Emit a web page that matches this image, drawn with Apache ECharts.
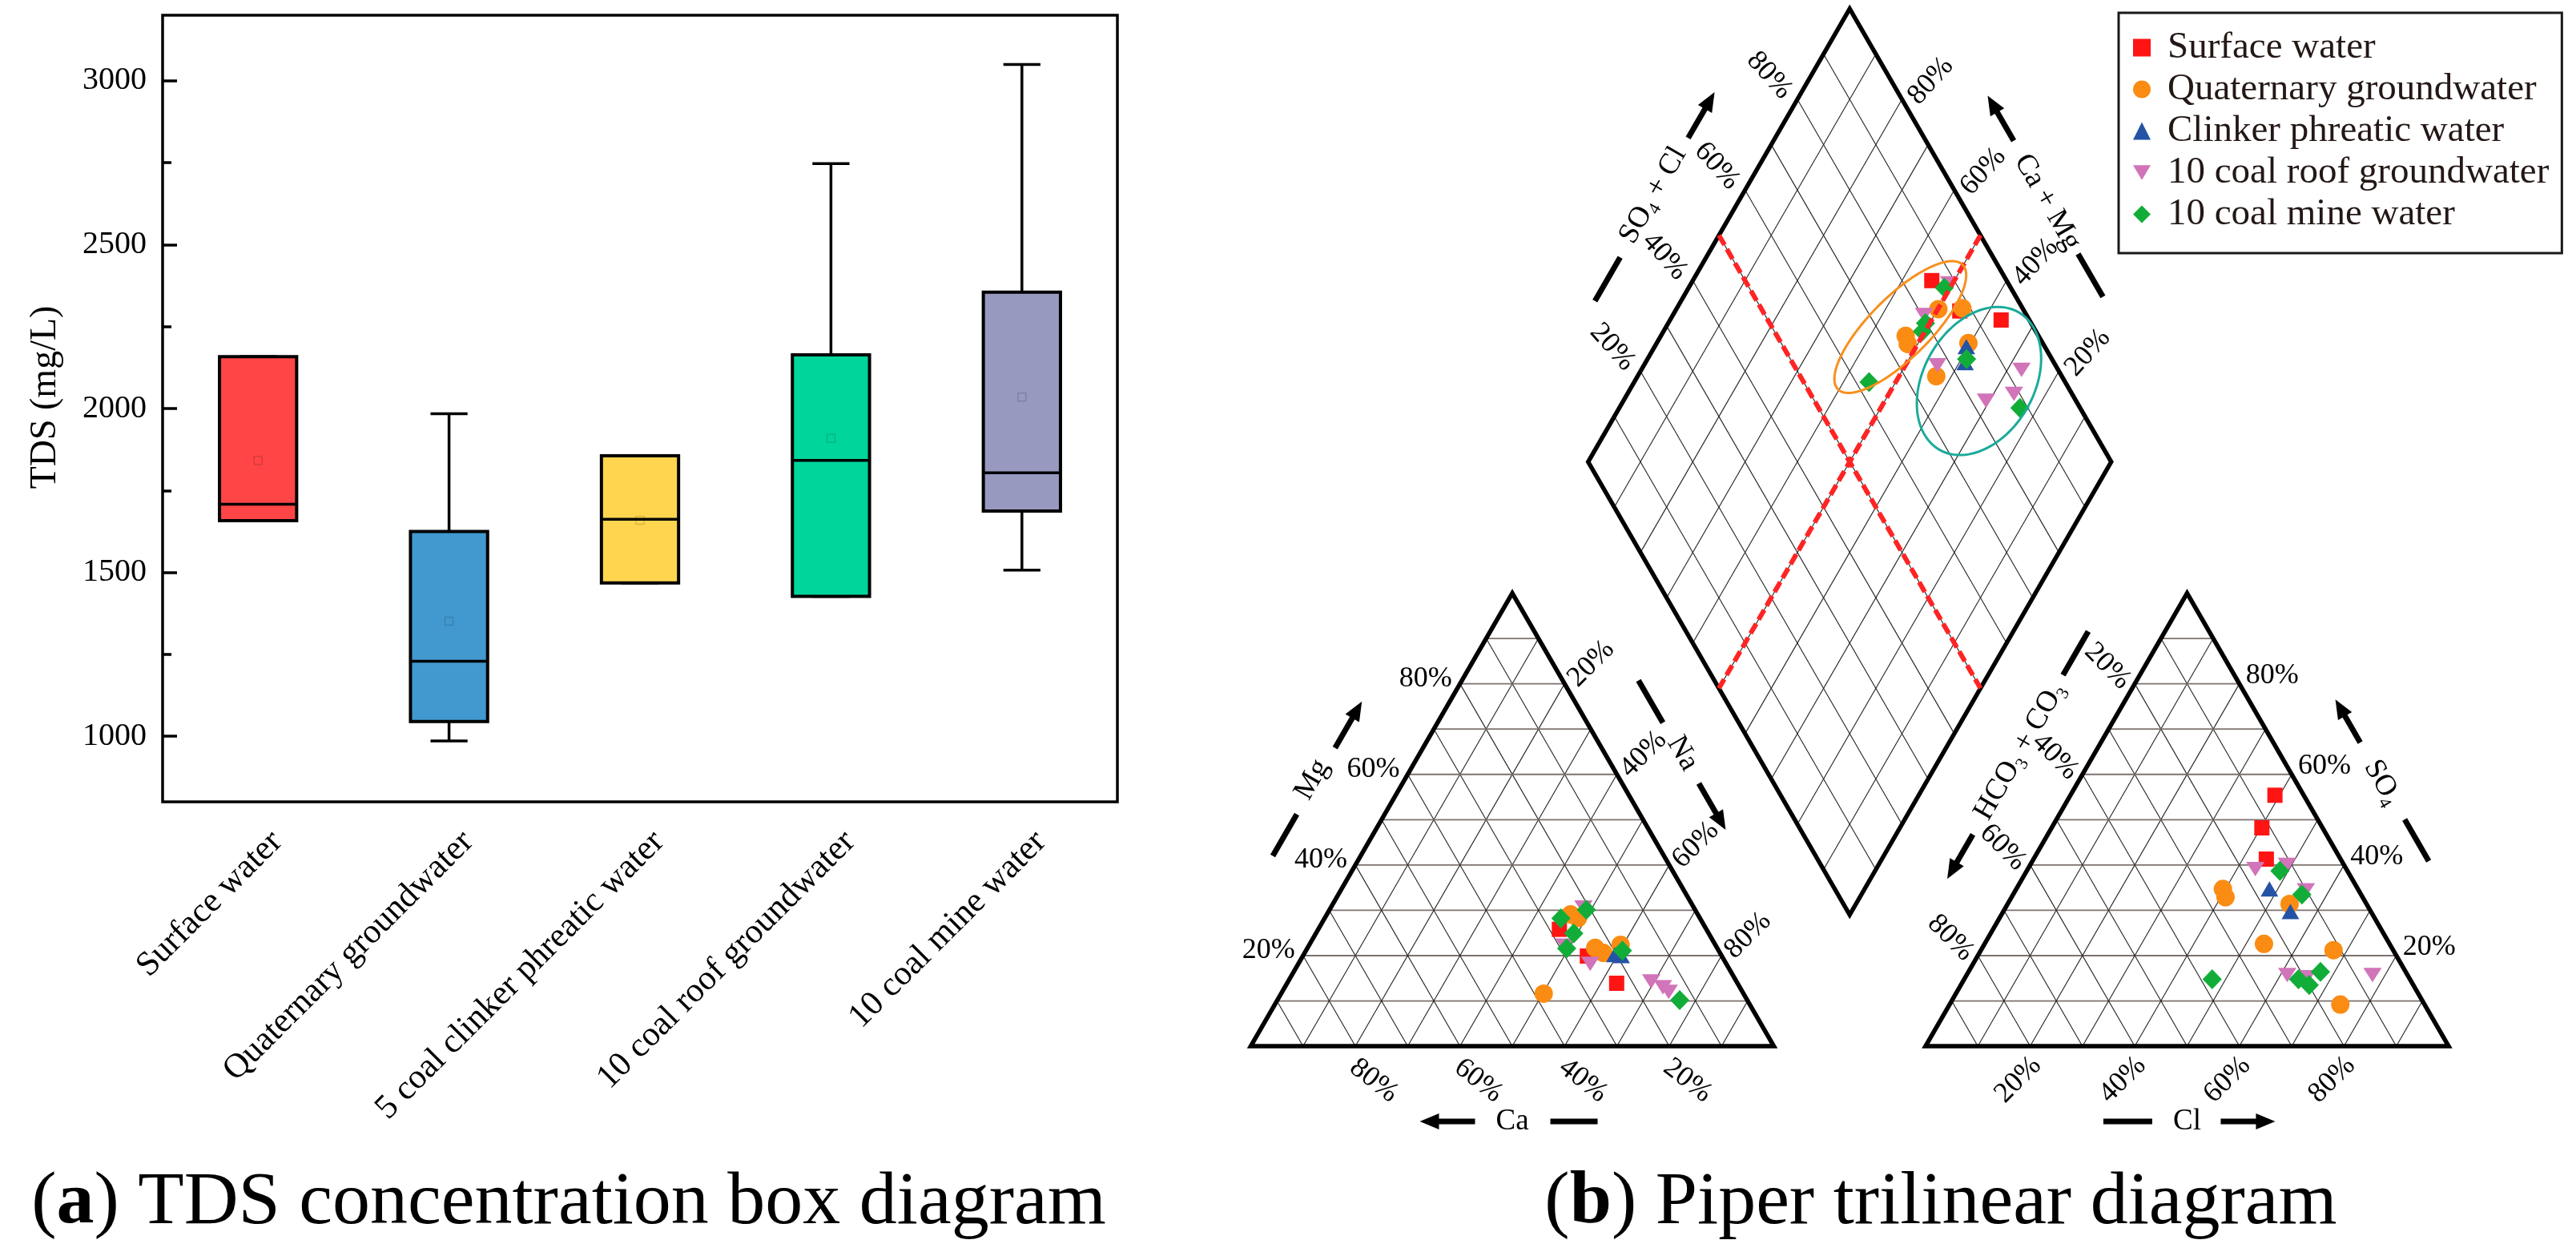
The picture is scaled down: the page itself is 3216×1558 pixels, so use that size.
<!DOCTYPE html>
<html>
<head>
<meta charset="utf-8">
<script src="https://cdn.jsdelivr.net/npm/echarts@6.0.0/dist/echarts.min.js"></script>
<style>
html,body{margin:0;padding:0;background:#ffffff;}
#chart{width:3216px;height:1558px;}
</style>
</head>
<body>
<div id="chart"></div>
<script>
// ===== (a) TDS box diagram (mg/L) =====
const boxCategories = ['Surface water', 'Quaternary groundwater', '5 coal clinker phreatic water', '10 coal roof groundwater', '10 coal mine water'];
const boxMin    = [1658,  986, 1468, 1427, 1507];
const boxQ1     = [1658, 1045, 1468, 1427, 1687];
const boxMedian = [1708, 1229, 1662, 1842, 1804];
const boxQ3     = [2158, 1625, 1856, 2164, 2355];
const boxMax    = [2158, 1984, 1856, 2747, 3050];
const boxMean   = [1842, 1351, 1659, 1909, 2035];
const yMajorTicks = [1000, 1500, 2000, 2500, 3000];
const yMinorTicks = [1250, 1750, 2250, 2750];

// ===== (b) Piper trilinear diagram =====
const groupNames = ['Surface water', 'Quaternary groundwater', 'Clinker phreatic water', '10 coal roof groundwater', '10 coal mine water'];
// cation triangle: [Mg %, Na+K %]
const cationSurface    = [[25.8,46.1],[19.9,54.4],[13.9,63.0]];
const cationQuaternary = [[29.1,46.6],[28.3,48.4],[21.7,55.0],[20.6,57.1],[22.4,59.5],[11.6,50.2]];
const cationClinker    = [[20.2,59.5],[20.0,60.8]];
const cationRoof       = [[18.2,55.8],[14.3,69.4],[13.0,72.3],[12.0,73.9],[30.6,48.3],[22.2,48.9]];
const cationMine       = [[28.2,45.2],[30.1,49.1],[24.9,49.3],[21.6,49.6],[21.1,60.5],[10.2,76.9]];
// anion triangle: [SO4 %, Cl %]
const anionSurface    = [[55.4,39.1],[48.2,40.2],[41.3,44.5]];
const anionQuaternary = [[34.7,39.5],[32.9,40.9],[31.4,53.9],[22.6,53.4],[21.2,67.4],[9.2,74.7]];
const anionClinker    = [[34.7,48.4],[29.7,54.9]];
const anionRoof       = [[39.1,43.5],[40.0,49.1],[34.4,55.5],[15.7,61.3],[15.7,77.6],[15.2,65.3]];
const anionMine       = [[38.7,48.4],[33.5,55.2],[14.8,47.4],[14.8,63.9],[13.5,66.6],[16.4,67.3]];
// diamond: [Ca+Mg %, SO4+Cl %]
const diamondSurface    = [[54.3,85.7],[36.7,94.6],[45.6,87.7]];
const diamondQuaternary = [[49.9,83.8],[45.4,88.5],[53.2,74.6],[51.9,74.1],[40.4,85.8],[42.9,76.0]];
const diamondClinker    = [[40.4,85.0],[38.9,83.0]];
const diamondRoof       = [[43.9,77.4],[27.3,93.0],[30.7,82.8],[26.1,88.9],[50.7,88.7],[52.0,80.4]];
const diamondMine       = [[51.1,87.3],[50.8,79.8],[50.5,78.3],[55.1,62.5],[39.0,83.7],[23.4,88.5]];
const pctTicks = [20, 40, 60, 80];

// ===== styles / geometry config =====
const FONT = 'Liberation Serif';
const boxColors = ['#FF4545', '#4299CF', '#FFD54F', '#00D59B', '#9799BF'];
const groupStyles = [
  {symbol: 'rect', size: 19, color: '#FF1414', rotate: 0, icon: 'rect'},
  {symbol: 'circle', size: 23, color: '#FA8C14', rotate: 0, icon: 'circle'},
  {symbol: 'triangle', size: [22, 19], color: '#2453A6', rotate: 0, icon: 'triangle'},
  {symbol: 'triangle', size: [23, 18], color: '#D174B9', rotate: 180, icon: 'path://M0,0L20,0L10,17Z'},
  {symbol: 'diamond', size: [24, 25], color: '#12AD38', rotate: 0, icon: 'diamond'}
];
// group ellipses in diamond: centre [Ca+Mg, SO4+Cl], semi axes (piper units), angle deg
const groupEllipses = [
  {c: [55.2, 74.55], a: 16.84, b: 5.82, ang: 45, color: '#F7901E'},
  {c: [34.2, 83.64], a: 15.16, b: 10.57, ang: 60, color: '#1BAA9A'}
];

const H = Math.sqrt(3) / 2 * 100;
const GAP = 29;
const AX = 100 + GAP;
function catXY(p) { const mg = p[0], na = p[1]; return [na + mg / 2, mg * H / 100]; }
function anXY(p) { const so4 = p[0], cl = p[1]; return [AX + cl + so4 / 2, so4 * H / 100]; }
function diaXY(p) { const na = 100 - p[0], a = p[1]; return [(na + AX + a) / 2, (AX + a - na) * H / 100]; }

const cationSets = [cationSurface, cationQuaternary, cationClinker, cationRoof, cationMine];
const anionSets = [anionSurface, anionQuaternary, anionClinker, anionRoof, anionMine];
const diamondSets = [diamondSurface, diamondQuaternary, diamondClinker, diamondRoof, diamondMine];

function piperFrame(params, api) {
  const P = (xy) => api.coord(xy);
  const ch = [];
  const seg = (a, b, stroke, w, dash) => ch.push({type: 'line', shape: {x1: a[0], y1: a[1], x2: b[0], y2: b[1]},
    style: {stroke: stroke, lineWidth: w, lineDash: dash || null, fill: null}});
  const HL = '#7d726e', DL = '#222222';
  [0, AX].forEach(function (ox) {
    for (let i = 1; i < 10; i++) {
      const f = i / 10;
      seg(P([ox + f * 50, f * H]), P([ox + 100 - f * 50, f * H]), HL, 1.8);
      seg(P([ox + f * 100, 0]), P([ox + f * 100 + (1 - f) * 50, (1 - f) * H]), DL, 1.1);
      seg(P([ox + (1 - f) * 100, 0]), P([ox + (1 - f) * 50, (1 - f) * H]), DL, 1.1);
    }
  });
  for (let i = 1; i < 10; i++) {
    const f = i * 10;
    seg(P(diaXY([100 - f, 0])), P(diaXY([100 - f, 100])), DL, 1.1);
    seg(P(diaXY([0, f])), P(diaXY([100, f])), DL, 1.1);
  }
  const poly = (pts) => ch.push({type: 'polygon', shape: {points: pts.map(P)},
    style: {fill: null, stroke: '#000', lineWidth: 5.5, lineJoin: 'miter', miterLimit: 10}});
  poly([[0, 0], [100, 0], [50, H]]);
  poly([[AX, 0], [AX + 100, 0], [AX + 50, H]]);
  poly([diaXY([100, 0]), diaXY([100, 100]), diaXY([0, 100]), diaXY([0, 0])]);

  const txt = (p, dx, dy, s, rot, size) => ch.push({type: 'text', x: p[0] + dx, y: p[1] + dy,
    rotation: rot * Math.PI / 180,
    style: {text: s, fill: '#000', fontFamily: FONT, fontSize: size, align: 'center', verticalAlign: 'middle'}});
  pctTicks.forEach(function (m) {
    const s = m + '%';
    txt(P([m / 2, m * H / 100]), -43, -6, s, 0, 36);
    txt(P([50 + m / 2, H * (1 - m / 100)]), 33, -25, s, 45, 36);
    txt(P([100 - m, 0]), 23, 43, s, -38, 36);
    txt(P([AX + 100 - m / 2, m * H / 100]), 41, -10, s, 0, 36);
    txt(P([AX + m, 0]), -15, 42, s, 45, 36);
    txt(P([AX + 50 * (1 - m / 100), H * (1 - m / 100)]), -34, -22, s, -45, 36);
    txt(P(diaXY([100, m])), -35, -30, s, -48, 36);
    txt(P(diaXY([m, 100])), 36, -23, s, 48, 36);
  });

  const rich = {
    n: {fontFamily: FONT, fontSize: 37, fill: '#000', lineHeight: 44},
    s: {fontFamily: FONT, fontSize: 22, fill: '#000', verticalAlign: 'bottom', lineHeight: 22}
  };
  function decor(A, B, nsign, items) {
    const a = P(A), b = P(B);
    const L = Math.hypot(b[0] - a[0], b[1] - a[1]);
    const e = [(b[0] - a[0]) / L, (b[1] - a[1]) / L];
    const n = [nsign * e[1], -nsign * e[0]];
    const m = [(a[0] + b[0]) / 2, (a[1] + b[1]) / 2];
    items.forEach(function (it) {
      const c = [m[0] + e[0] * it.t + n[0] * it.d, m[1] + e[1] * it.t + n[1] * it.d];
      if (it.k === 'text') {
        ch.push({type: 'text', x: c[0], y: c[1], rotation: it.rot * Math.PI / 180,
          style: {text: it.s, fill: '#000', fontFamily: FONT, fontSize: 37, align: 'center', verticalAlign: 'middle', rich: rich}});
      } else if (it.k === 'dash') {
        seg([c[0] - e[0] * it.len / 2, c[1] - e[1] * it.len / 2], [c[0] + e[0] * it.len / 2, c[1] + e[1] * it.len / 2], '#000', 7);
      } else {
        const d = [e[0] * it.dir, e[1] * it.dir];
        const tail = [c[0] - d[0] * it.len / 2, c[1] - d[1] * it.len / 2];
        const tip = [c[0] + d[0] * it.len / 2, c[1] + d[1] * it.len / 2];
        const hl = 24, hw = 10;
        const base = [tip[0] - d[0] * hl, tip[1] - d[1] * hl];
        seg(tail, [base[0] + d[0] * 2, base[1] + d[1] * 2], '#000', 7);
        ch.push({type: 'polygon', shape: {points: [tip, [base[0] - d[1] * hw, base[1] + d[0] * hw], [base[0] + d[1] * hw, base[1] - d[0] * hw]]},
          style: {fill: '#000'}});
      }
    });
  }
  decor([0, 0], [50, H], 1, [
    {k: 'text', s: '{n|Mg}', t: 0, d: 100, rot: 60}, {k: 'dash', t: -77, d: 95, len: 60}, {k: 'arrow', t: 82, d: 95, len: 67, dir: 1}]);
  decor([0, 0], [100, 0], -1, [
    {k: 'text', s: '{n|Ca}', t: 0, d: 94, rot: 0}, {k: 'arrow', t: -81, d: 94, len: 69, dir: -1}, {k: 'dash', t: 77, d: 94, len: 59}]);
  decor([50, H], [100, 0], 1, [
    {k: 'text', s: '{n|Na}', t: -47, d: 84, rot: -60}, {k: 'dash', t: -123, d: 82, len: 61}, {k: 'arrow', t: 29, d: 83, len: 67, dir: 1}]);
  decor([AX, 0], [AX + 100, 0], -1, [
    {k: 'text', s: '{n|Cl}', t: 0, d: 94, rot: 0}, {k: 'dash', t: -74, d: 94, len: 61}, {k: 'arrow', t: 76, d: 94, len: 68, dir: 1}]);
  decor([AX + 50, H], [AX + 100, 0], 1, [
    {k: 'text', s: '{n|SO}{s|4}', t: 0, d: 93, rot: -60}, {k: 'arrow', t: -88, d: 94, len: 62, dir: -1}, {k: 'dash', t: 84, d: 94, len: 60}]);
  decor([AX, 0], [AX + 50, H], 1, [
    {k: 'text', s: '{n|HCO}{s|3}{n| + CO}{s|3}', t: 51, d: 82, rot: 60}, {k: 'dash', t: 192, d: 83, len: 63}, {k: 'arrow', t: -100, d: 81, len: 64, dir: -1}]);
  decor(diaXY([100, 0]), diaXY([100, 100]), 1, [
    {k: 'text', s: '{n|SO}{s|4}{n| + Cl}', t: 2, d: 96, rot: 60}, {k: 'dash', t: -117, d: 93, len: 63}, {k: 'arrow', t: 119, d: 94, len: 66, dir: 1}]);
  decor(diaXY([100, 100]), diaXY([0, 100]), 1, [
    {k: 'text', s: '{n|Ca + Mg}', t: 6, d: 93, rot: -60}, {k: 'arrow', t: -114, d: 95, len: 65, dir: -1}, {k: 'dash', t: 112, d: 94, len: 62}]);
  return {type: 'group', children: ch};
}

function piperOverlay(params, api) {
  const P = (xy) => api.coord(xy);
  const ch = [];
  const dash = (a, b) => ch.push({type: 'line', shape: {x1: a[0], y1: a[1], x2: b[0], y2: b[1]},
    style: {stroke: '#FF2424', lineWidth: 6, lineDash: [14, 6]}});
  dash(P(diaXY([100, 50])), P(diaXY([0, 50])));
  dash(P(diaXY([50, 100])), P(diaXY([50, 0])));
  groupEllipses.forEach(function (el) {
    const c = diaXY(el.c);
    const r = el.ang * Math.PI / 180;
    const pts = [];
    for (let k = 0; k <= 120; k++) {
      const t = k / 120 * Math.PI * 2;
      const lx = el.a * Math.cos(t), ly = el.b * Math.sin(t);
      pts.push(P([c[0] + lx * Math.cos(r) - ly * Math.sin(r), c[1] + lx * Math.sin(r) + ly * Math.cos(r)]));
    }
    ch.push({type: 'polyline', shape: {points: pts}, style: {stroke: el.color, lineWidth: 3, fill: null}});
  });
  return {type: 'group', children: ch};
}

function boxItem(params, api) {
  const i = api.value(0);
  const pMin = api.coord([i, api.value(1)]);
  const pQ1 = api.coord([i, api.value(2)]);
  const pMed = api.coord([i, api.value(3)]);
  const pQ3 = api.coord([i, api.value(4)]);
  const pMax = api.coord([i, api.value(5)]);
  const band = api.size([1, 0])[0];
  const bw = band * 0.404, cw = band * 0.194;
  const x = pMin[0];
  const ln = (x1, y1, x2, y2, w) => ({type: 'line', shape: {x1: x1, y1: y1, x2: x2, y2: y2}, style: {stroke: '#000', lineWidth: w}});
  return {type: 'group', children: [
    ln(x, pMax[1], x, pQ3[1], 3.5),
    ln(x, pQ1[1], x, pMin[1], 3.5),
    ln(x - cw / 2, pMax[1], x + cw / 2, pMax[1], 3.5),
    ln(x - cw / 2, pMin[1], x + cw / 2, pMin[1], 3.5),
    {type: 'rect', shape: {x: x - bw / 2, y: pQ3[1], width: bw, height: pQ1[1] - pQ3[1]},
      style: {fill: boxColors[params.dataIndex], stroke: '#000', lineWidth: 4}},
    ln(x - bw / 2, pMed[1], x + bw / 2, pMed[1], 3.5)
  ]};
}

const scatterSeries = groupNames.map(function (name, g) {
  const st = groupStyles[g];
  const data = [].concat(cationSets[g].map(catXY), anionSets[g].map(anXY), diamondSets[g].map(diaXY));
  return {
    name: name, type: 'scatter', xAxisIndex: 1, yAxisIndex: 2, data: data,
    symbol: st.symbol, symbolSize: st.size, symbolRotate: st.rotate,
    itemStyle: {color: st.color, opacity: 1}, z: 3, silent: true
  };
});

const chart = echarts.init(document.getElementById('chart'), null, {renderer: 'canvas', width: 3216, height: 1558});
const option = {
  animation: false,
  backgroundColor: '#ffffff',
  grid: [
    {left: 203, top: 19, width: 1192, height: 982, show: true, borderColor: '#000', borderWidth: 3.5, backgroundColor: 'rgba(0,0,0,0)', outerBoundsMode: 'none', containLabel: false},
    {left: 1430.9, top: 0, width: 1763.2, height: 1502, outerBoundsMode: 'none', containLabel: false}
  ],
  xAxis: [
    {type: 'category', gridIndex: 0, data: boxCategories, boundaryGap: true,
      axisLine: {show: false}, axisTick: {show: false}, splitLine: {show: false},
      axisLabel: {rotate: 45, fontFamily: FONT, fontSize: 43, color: '#000', margin: 20, verticalAlign: 'top', padding: [12, 0, 0, 0], interval: 0}},
    {type: 'value', gridIndex: 1, min: -20, max: 250, show: false}
  ],
  yAxis: [
    {type: 'value', gridIndex: 0, min: 800, max: 3200, position: 'left',
      axisLine: {show: false}, splitLine: {show: false},
      axisTick: {show: true, inside: true, length: 18, customValues: yMajorTicks, lineStyle: {color: '#000', width: 3.5}},
      axisLabel: {customValues: yMajorTicks, fontFamily: FONT, fontSize: 40, color: '#000', margin: 20,
        formatter: function (v) { return String(v); }}},
    {type: 'value', gridIndex: 0, min: 800, max: 3200, position: 'left',
      axisLine: {show: false}, splitLine: {show: false}, axisLabel: {show: false},
      axisTick: {show: true, inside: true, length: 11, customValues: yMinorTicks, lineStyle: {color: '#000', width: 3.5}}},
    {type: 'value', gridIndex: 1, min: -30, max: 200, show: false}
  ],
  legend: {
    orient: 'vertical', left: 2645, top: 16,
    padding: [20, 16, 25, 18], itemWidth: 22, itemHeight: 22, itemGap: 5,
    borderColor: '#1a1a1a', borderWidth: 3, backgroundColor: '#fff',
    textStyle: {fontFamily: FONT, fontSize: 47, color: '#231815', lineHeight: 47, padding: [0, 0, 0, 16]},
    data: groupNames.map(function (nm, g) { return {name: nm, icon: groupStyles[g].icon, itemStyle: {color: groupStyles[g].color}}; })
  },
  graphic: [
    {type: 'text', x: 57, y: 496, rotation: Math.PI / 2,
      style: {text: 'TDS (mg/L)', fontFamily: FONT, fontSize: 46, fill: '#000', align: 'center', verticalAlign: 'middle'}},
    {type: 'text', x: 710, y: 1502,
      style: {text: '{p|(}{b|a}{p|) TDS concentration box diagram}', align: 'center', verticalAlign: 'middle',
        rich: {p: {fontFamily: FONT, fontSize: 94, fill: '#000'}, b: {fontFamily: FONT, fontSize: 94, fontWeight: 'bold', fill: '#000'}}}},
    {type: 'text', x: 2423, y: 1502,
      style: {text: '{p|(}{b|b}{p|) Piper trilinear diagram}', align: 'center', verticalAlign: 'middle',
        rich: {p: {fontFamily: FONT, fontSize: 94, fill: '#000'}, b: {fontFamily: FONT, fontSize: 94, fontWeight: 'bold', fill: '#000'}}}}
  ],
  series: [
    {type: 'custom', name: 'TDS', xAxisIndex: 0, yAxisIndex: 0, renderItem: boxItem, z: 2, silent: true,
      encode: {x: 0, y: [1, 2, 3, 4, 5]},
      data: boxCategories.map(function (c, i) { return [i, boxMin[i], boxQ1[i], boxMedian[i], boxQ3[i], boxMax[i]]; })},
    {type: 'scatter', name: 'mean', xAxisIndex: 0, yAxisIndex: 0, symbol: 'rect', symbolSize: 10, z: 3, silent: true,
      itemStyle: {color: 'rgba(0,0,0,0)', borderColor: 'rgba(0,0,0,0.18)', borderWidth: 1.5},
      data: boxCategories.map(function (c, i) { return [i, boxMean[i]]; })},
    {type: 'custom', name: 'frame', xAxisIndex: 1, yAxisIndex: 2, renderItem: piperFrame, data: [[0, 0]], z: 1, silent: true, clip: false},
    {type: 'custom', name: 'overlay', xAxisIndex: 1, yAxisIndex: 2, renderItem: piperOverlay, data: [[0, 0]], z: 4, silent: true, clip: false}
  ].concat(scatterSeries)
};
chart.setOption(option);
</script>
</body>
</html>
